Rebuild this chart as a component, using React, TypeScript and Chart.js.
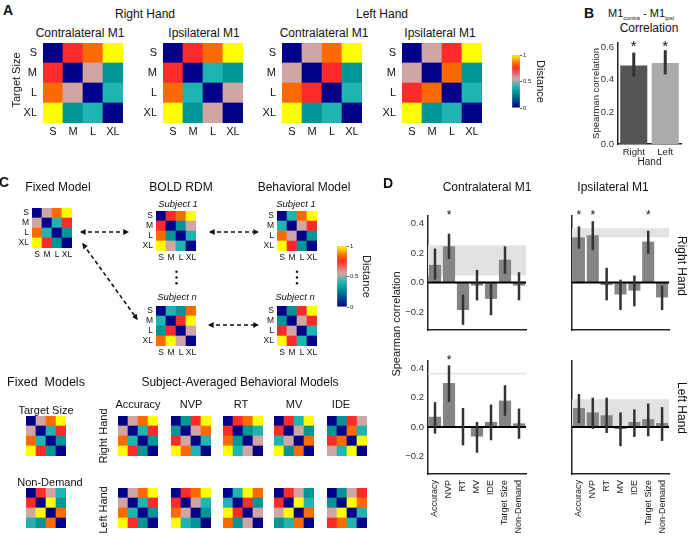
import React, { useEffect, useRef } from 'react';
import { Chart, registerables } from 'chart.js';

Chart.register(...registerables);

const FONT = '"Liberation Sans", Arial, Helvetica, sans-serif';
Chart.defaults.font.family = FONT;
Chart.defaults.color = '#222';

// ---------- colour map (distance -> colour) ----------
const CMAP_STOPS = [0, 0.3, 0.4, 0.55, 0.75, 0.85, 1];
const CMAP_RGB = [
  [0, 0, 136],
  [0, 150, 150],
  [32, 180, 176],
  [210, 165, 165],
  [255, 43, 43],
  [255, 106, 0],
  [255, 255, 0],
];
const COLORBAR_TICKS = [0, 0.5, 1];

// ---------- matrices (rows / cols: S, M, L, XL) ----------
const SIZE_LABELS = ['S', 'M', 'L', 'XL'];

// Panel A
const rightContraRDM = [[0, 0.75, 0.85, 1], [0.75, 0, 0.55, 0.3], [0.85, 0.55, 0, 0.4], [1, 0.3, 0.4, 0]];
const rightIpsiRDM = [[0, 0.75, 0.85, 1], [0.75, 0, 0.4, 0.3], [0.85, 0.4, 0, 0.55], [1, 0.3, 0.55, 0]];
const leftContraRDM = [[0, 0.55, 0.85, 1], [0.55, 0, 0.75, 0.3], [0.85, 0.75, 0, 0.4], [1, 0.3, 0.4, 0]];
const leftIpsiRDM = [[0, 0.55, 0.75, 1], [0.55, 0, 0.85, 0.3], [0.75, 0.85, 0, 0.4], [1, 0.3, 0.4, 0]];

// Panel C (top)
const fixedModelRDM = [[0, 0.55, 0.85, 1], [0.55, 0, 0.4, 0.75], [0.85, 0.4, 0, 0.3], [1, 0.75, 0.3, 0]];
const boldSubj1RDM = [[0, 0.75, 0.85, 1], [0.75, 0, 0.3, 0.55], [0.85, 0.3, 0, 0.4], [1, 0.55, 0.4, 0]];
const behavSubj1RDM = [[0, 0.4, 0.85, 1], [0.4, 0, 0.55, 0.75], [0.85, 0.55, 0, 0.3], [1, 0.75, 0.3, 0]];
const boldSubjNRDM = [[0, 0.4, 0.3, 0.85], [0.4, 0, 0.75, 1], [0.3, 0.75, 0, 0.55], [0.85, 1, 0.55, 0]];
const behavSubjNRDM = [[0, 0.3, 0.75, 1], [0.3, 0, 0.55, 0.75], [0.75, 0.55, 0, 0.4], [1, 0.75, 0.4, 0]];

// Panel C (bottom)
const targetSizeRDM = [[0, 0.55, 0.85, 1], [0.55, 0, 0.4, 0.75], [0.85, 0.4, 0, 0.3], [1, 0.75, 0.3, 0]];
const nonDemandRDM = [[0, 0.75, 0.55, 0.4], [0.75, 0, 1, 0.3], [0.55, 1, 0, 0.85], [0.4, 0.3, 0.85, 0]];
const accRightRDM = [[0, 0.55, 0.85, 1], [0.55, 0, 0.4, 0.75], [0.85, 0.4, 0, 0.3], [1, 0.75, 0.3, 0]];
const nvpRightRDM = [[0, 0.3, 0.75, 1], [0.3, 0, 0.55, 0.85], [0.75, 0.55, 0, 0.4], [1, 0.85, 0.4, 0]];
const rtRightRDM = [[0, 0.75, 0.85, 1], [0.75, 0, 0.3, 0.4], [0.85, 0.3, 0, 0.55], [1, 0.4, 0.55, 0]];
const mvRightRDM = [[0, 0.75, 0.4, 1], [0.75, 0, 0.55, 0.3], [0.4, 0.55, 0, 0.85], [1, 0.3, 0.85, 0]];
const ideRightRDM = [[0, 0.3, 0.75, 0.55], [0.3, 0, 0.85, 0.4], [0.75, 0.85, 0, 1], [0.55, 0.4, 1, 0]];
const accLeftRDM = [[0, 0.55, 0.85, 1], [0.55, 0, 0.4, 0.75], [0.85, 0.4, 0, 0.3], [1, 0.75, 0.3, 0]];
const nvpLeftRDM = [[0, 0.75, 0.85, 1], [0.75, 0, 0.55, 0.4], [0.85, 0.55, 0, 0.3], [1, 0.4, 0.3, 0]];
const rtLeftRDM = [[0, 0.4, 1, 0.85], [0.4, 0, 0.75, 0.3], [1, 0.75, 0, 0.55], [0.85, 0.3, 0.55, 0]];
const mvLeftRDM = [[0, 0.75, 0.55, 0.3], [0.75, 0, 1, 0.4], [0.55, 1, 0, 0.85], [0.3, 0.4, 0.85, 0]];
const ideLeftRDM = [[0, 0.3, 0.55, 0.75], [0.3, 0, 1, 0.85], [0.55, 1, 0, 0.4], [0.75, 0.85, 0.4, 0]];

// ---------- Panel B ----------
const HAND_LABELS = ['Right', 'Left'];
const handCorr = [0.49, 0.505];
const handCorrLow = [0.42, 0.435];
const handCorrHigh = [0.57, 0.585];
const handCorrSig = [true, true];
const HAND_TICKS = [0, 0.2, 0.4, 0.6];

// ---------- Panel D ----------
const MODEL_LABELS = ['Accuracy', 'NVP', 'RT', 'MV', 'IDE', 'Target Size', 'Non-Demand'];
const CORR_TICKS = [-0.2, 0, 0.2, 0.4];

const contraRight = [0.12, 0.245, -0.185, -0.02, -0.11, 0.155, -0.02];
const contraRightLow = [0.02, 0.16, -0.285, -0.12, -0.22, 0.06, -0.12];
const contraRightHigh = [0.23, 0.33, -0.08, 0.086, 0.0, 0.245, 0.07];
const contraRightSig = [false, true, false, false, false, false, false];
const contraRightCeil = [0.048, 0.252];

const contraLeft = [0.07, 0.3, 0.005, -0.065, 0.035, 0.18, 0.025];
const contraLeftLow = [-0.045, 0.17, -0.125, -0.175, -0.09, 0.077, -0.08];
const contraLeftHigh = [0.17, 0.42, 0.13, 0.035, 0.153, 0.285, 0.126];
const contraLeftSig = [false, true, false, false, false, false, false];
const contraLeftCeil = [0.358, 0.37];

const ipsiRight = [0.306, 0.32, -0.016, -0.08, -0.054, 0.277, -0.1];
const ipsiRightLow = [0.23, 0.218, -0.12, -0.185, -0.16, 0.195, -0.185];
const ipsiRightHigh = [0.38, 0.415, 0.1, 0.02, 0.048, 0.35, -0.02];
const ipsiRightSig = [true, true, false, false, false, true, false];
const ipsiRightCeil = [0.306, 0.367];

const ipsiLeft = [0.13, 0.1, 0.08, -0.014, 0.035, 0.054, 0.027];
const ipsiLeftLow = [0.027, -0.013, -0.04, -0.13, -0.067, -0.063, -0.095];
const ipsiLeftHigh = [0.225, 0.2, 0.2, 0.1, 0.12, 0.16, 0.136];
const ipsiLeftSig = [false, false, false, false, false, false, false];
const ipsiLeftCeil = [0.0, 0.19];

// ---------- helpers ----------
function cmap(v: number): string {
  let i = 0;
  while (i < CMAP_STOPS.length - 2 && v > CMAP_STOPS[i + 1]) i++;
  const t = Math.max(0, Math.min(1, (v - CMAP_STOPS[i]) / (CMAP_STOPS[i + 1] - CMAP_STOPS[i])));
  const a = CMAP_RGB[i];
  const b = CMAP_RGB[i + 1];
  const c = a.map((av, k) => Math.round(av + (b[k] - av) * t));
  return `rgb(${c[0]},${c[1]},${c[2]})`;
}

const fmtTick = (v: number) => (v < -1e-9 ? '\u2212' + Math.abs(v).toFixed(1) : Math.abs(v).toFixed(1));

const NOGRID = { display: false, drawTicks: false };

const BASE = {
  animation: false as const,
  responsive: false,
  events: [] as any[],
  plugins: { legend: { display: false }, tooltip: { enabled: false }, title: { display: false } },
};

function ChartCanvas({ x, y, w, h, make }: { x: number; y: number; w: number; h: number; make: () => any }) {
  const ref = useRef<HTMLCanvasElement>(null);
  useEffect(() => {
    const chart = new Chart(ref.current as HTMLCanvasElement, make());
    return () => chart.destroy();
  }, []);
  return (
    <canvas
      ref={ref}
      width={w}
      height={h}
      style={{ position: 'absolute', left: x, top: y, width: w, height: h }}
    />
  );
}

type AxSpec = { font: number; yW: number; yPad: number; xH: number; xPad: number };
const AX_BIG: AxSpec = { font: 11, yW: 22, yPad: 6, xH: 18, xPad: 2 };
const AX_SMALL: AxSpec = { font: 8.5, yW: 16, yPad: 3, xH: 14, xPad: 1.5 };

function heatConfig(m: number[][], ax?: AxSpec) {
  const rows = m.slice().reverse(); // bottom row (XL) first in the stack
  const show = !!ax;
  const fs = ax ? ax.font : 10;
  return {
    type: 'bar',
    data: {
      labels: SIZE_LABELS,
      datasets: rows.map((r) => ({
        data: r.map(() => 1),
        backgroundColor: r.map(cmap),
        borderWidth: 0,
        barPercentage: 1,
        categoryPercentage: 1,
      })),
    },
    options: {
      ...BASE,
      layout: { padding: 0 },
      scales: {
        x: {
          stacked: true,
          display: show,
          grid: NOGRID,
          border: { display: false },
          ticks: { color: '#111', font: { size: fs }, padding: ax ? ax.xPad : 0, maxRotation: 0, minRotation: 0, autoSkip: false },
          afterFit: (s: any) => {
            if (ax) s.height = ax.xH;
            s.paddingLeft = 0;
            s.paddingRight = 0;
          },
        },
        y: {
          stacked: true,
          min: 0,
          max: 4,
          display: show,
          grid: NOGRID,
          border: { display: false },
          afterBuildTicks: (s: any) => {
            s.ticks = [0.5, 1.5, 2.5, 3.5].map((value) => ({ value }));
          },
          ticks: {
            color: '#111',
            font: { size: fs },
            padding: ax ? ax.yPad : 0,
            autoSkip: false,
            callback: (_v: any, i: number) => SIZE_LABELS[3 - i],
          },
          afterFit: (s: any) => {
            if (ax) s.width = ax.yW;
            s.paddingTop = 0;
            s.paddingBottom = 0;
          },
        },
      },
    },
  };
}

function Heat({ m, x, y, size, ax }: { m: number[][]; x: number; y: number; size: number; ax?: AxSpec }) {
  const left = ax ? x - ax.yW : x;
  const w = ax ? size + ax.yW : size;
  const h = ax ? size + ax.xH : size;
  return <ChartCanvas x={left} y={y} w={w} h={h} make={() => heatConfig(m, ax)} />;
}

function colorbarConfig(axisW: number) {
  return {
    type: 'bar',
    data: {
      labels: [''],
      datasets: [
        {
          data: [1],
          backgroundColor: (ctx: any) => {
            const ca = ctx.chart.chartArea;
            if (!ca) return 'rgba(0,0,0,0)';
            const g = ctx.chart.ctx.createLinearGradient(0, ca.bottom, 0, ca.top);
            CMAP_STOPS.forEach((s) => g.addColorStop(s, cmap(s)));
            return g;
          },
          borderWidth: 0.6,
          borderColor: 'rgba(0,0,0,0.35)',
          borderSkipped: false,
          barPercentage: 1,
          categoryPercentage: 1,
        },
      ],
    },
    options: {
      ...BASE,
      layout: { padding: { top: 5, bottom: 5, left: 0, right: 0 } },
      scales: {
        x: { display: false },
        y: {
          position: 'right',
          min: 0,
          max: 1,
          afterBuildTicks: (s: any) => {
            s.ticks = COLORBAR_TICKS.map((value) => ({ value }));
          },
          grid: { display: true, drawOnChartArea: false, drawTicks: true, tickLength: 2, color: '#444', lineWidth: 0.8 },
          border: { display: false },
          ticks: { font: { size: 6 }, padding: 1, color: '#222', callback: (v: number) => String(v) },
          title: { display: true, text: 'Distance', font: { size: 11 }, padding: 0, color: '#222' },
          afterFit: (s: any) => {
            s.width = axisW;
            s.paddingTop = 0;
            s.paddingBottom = 0;
          },
        },
      },
    },
  };
}

function Colorbar({ x, y, w, h, axisW }: { x: number; y: number; w: number; h: number; axisW: number }) {
  return <ChartCanvas x={x} y={y - 5} w={w + axisW} h={h + 10} make={() => colorbarConfig(axisW)} />;
}

function extrasPlugin(lo: number[], hi: number[], sig: boolean[], ceil: number[] | null, o: { zero: boolean; errW: number; star: number; starDy: number }) {
  return {
    id: 'extras',
    beforeDatasetsDraw(chart: any) {
      if (!ceil) return;
      const { ctx, chartArea: ca, scales } = chart;
      const yT = scales.y.getPixelForValue(ceil[1]);
      const yB = scales.y.getPixelForValue(ceil[0]);
      ctx.save();
      ctx.fillStyle = '#e2e2e2';
      ctx.fillRect(ca.left, yT, ca.right - ca.left, Math.max(1.2, yB - yT));
      ctx.restore();
    },
    afterDatasetsDraw(chart: any) {
      const { ctx, chartArea: ca, scales } = chart;
      const meta = chart.getDatasetMeta(0);
      ctx.save();
      if (o.zero) {
        const y0 = scales.y.getPixelForValue(0);
        ctx.strokeStyle = '#000';
        ctx.lineWidth = 2;
        ctx.beginPath();
        ctx.moveTo(ca.left, y0);
        ctx.lineTo(ca.right, y0);
        ctx.stroke();
      }
      ctx.strokeStyle = '#333';
      ctx.lineWidth = o.errW;
      meta.data.forEach((bar: any, i: number) => {
        ctx.beginPath();
        ctx.moveTo(bar.x, scales.y.getPixelForValue(lo[i]));
        ctx.lineTo(bar.x, scales.y.getPixelForValue(hi[i]));
        ctx.stroke();
      });
      ctx.fillStyle = '#111';
      ctx.font = `${o.star}px ${FONT}`;
      ctx.textAlign = 'center';
      ctx.textBaseline = 'alphabetic';
      meta.data.forEach((bar: any, i: number) => {
        if (sig[i]) ctx.fillText('*', bar.x, ca.top + o.starDy + 0.57 * o.star);
      });
      ctx.restore();
    },
  };
}

function handConfig() {
  return {
    type: 'bar',
    data: {
      labels: HAND_LABELS,
      datasets: [
        {
          data: handCorr,
          backgroundColor: ['#555555', '#ababab'],
          borderWidth: 0,
          barPercentage: 0.86,
          categoryPercentage: 1,
        },
      ],
    },
    options: {
      ...BASE,
      layout: { padding: { top: 7, right: 9, left: 0, bottom: 0 } },
      scales: {
        x: {
          grid: NOGRID,
          border: { display: true, color: '#222', width: 1.5 },
          ticks: { font: { size: 9.5 }, padding: 3, color: '#222', maxRotation: 0 },
          title: { display: true, text: 'Hand', font: { size: 10 }, padding: { top: 0, bottom: 0 }, color: '#222' },
          afterFit: (s: any) => {
            s.height = 24;
            s.paddingLeft = 0;
            s.paddingRight = 0;
          },
        },
        y: {
          min: 0,
          max: 0.63,
          grid: NOGRID,
          border: { display: true, color: '#222', width: 1.5 },
          afterBuildTicks: (s: any) => {
            s.ticks = HAND_TICKS.map((value) => ({ value }));
          },
          ticks: { font: { size: 9.5 }, padding: 4, color: '#333', callback: (v: number) => fmtTick(v) },
          title: { display: true, text: 'Spearman correlation', font: { size: 9.5 }, padding: { top: 3, bottom: 0 }, color: '#222' },
          afterFit: (s: any) => {
            s.width = 30;
            s.paddingTop = 0;
            s.paddingBottom = 0;
          },
        },
      },
    },
    plugins: [extrasPlugin(handCorrLow, handCorrHigh, handCorrSig, null, { zero: false, errW: 3, star: 15, starDy: -1 })],
  };
}

function corrConfig(vals: number[], lo: number[], hi: number[], sig: boolean[], ceil: number[], showX: boolean, showY: boolean) {
  return {
    type: 'bar',
    data: {
      labels: MODEL_LABELS,
      datasets: [
        {
          data: vals,
          backgroundColor: '#858585',
          borderWidth: 0,
          barPercentage: 0.87,
          categoryPercentage: 1,
        },
      ],
    },
    options: {
      ...BASE,
      layout: { padding: { top: 11, right: 2, left: 0, bottom: 0 } },
      scales: {
        x: {
          grid: NOGRID,
          border: { display: true, color: '#222', width: 1.5 },
          ticks: { display: showX, font: { size: 9 }, padding: 6, color: '#222', maxRotation: 90, minRotation: 90, autoSkip: false },
          afterFit: (s: any) => {
            s.height = showX ? 64 : 1;
            s.paddingLeft = 0;
            s.paddingRight = 0;
          },
        },
        y: {
          min: -0.32,
          max: 0.45,
          grid: NOGRID,
          border: { display: true, color: '#222', width: 1.5 },
          afterBuildTicks: (s: any) => {
            s.ticks = CORR_TICKS.map((value) => ({ value }));
          },
          ticks: { display: showY, font: { size: 9.5 }, padding: 4, color: '#333', callback: (v: number) => fmtTick(v) },
          afterFit: (s: any) => {
            s.width = showY ? 28 : 2;
            s.paddingTop = 0;
            s.paddingBottom = 0;
          },
        },
      },
    },
    plugins: [extrasPlugin(lo, hi, sig, ceil, { zero: true, errW: 2.5, star: 12, starDy: -3.5 })],
  };
}

// Text label centred on (x, y); uses a fixed, integer-aligned box so rotated text stays crisp.
function Txt({ x, y, children, size = 12, bold = false, italic = false, rot = 0, color = '#111', pre = false }: any) {
  const W = 300;
  const H = Math.round((size * 1.2) / 2) * 2;
  return (
    <div
      style={{
        position: 'absolute',
        left: Math.round(x - W / 2),
        top: Math.round(y - H / 2),
        width: W,
        height: H,
        lineHeight: H + 'px',
        textAlign: 'center',
        transform: rot ? `rotate(${rot}deg)` : undefined,
        fontSize: size,
        fontWeight: bold ? 'bold' : 'normal',
        fontStyle: italic ? 'italic' : 'normal',
        whiteSpace: pre ? 'pre' : 'nowrap',
        fontFamily: FONT,
        color,
        pointerEvents: 'none',
      }}
    >
      {children}
    </div>
  );
}

function Arrows() {
  const common = {
    stroke: '#111',
    strokeWidth: 1.6,
    strokeDasharray: '4 3',
    markerStart: 'url(#ah)',
    markerEnd: 'url(#ah)',
  };
  const dots = [271.7, 277.5, 283.3];
  return (
    <svg width={690} height={538} style={{ position: 'absolute', left: 0, top: 0, pointerEvents: 'none' }}>
      <defs>
        <marker id="ah" viewBox="0 0 10 10" refX="8" refY="5" markerWidth="3.6" markerHeight="3.6" orient="auto-start-reverse">
          <path d="M0,0 L10,5 L0,10 z" fill="#111" />
        </marker>
      </defs>
      <line x1={81} y1={232} x2={128} y2={232} {...common} />
      <line x1={210} y1={232} x2={258} y2={232} {...common} />
      <line x1={209} y1={325} x2={258} y2={325} {...common} />
      <line x1={83} y1={244} x2={137} y2={319} {...common} />
      {dots.map((d) => (
        <circle key={'a' + d} cx={176.5} cy={d} r={1.2} fill="#111" />
      ))}
      {dots.map((d) => (
        <circle key={'b' + d} cx={297} cy={d} r={1.2} fill="#111" />
      ))}
    </svg>
  );
}

export default function App() {
  const topRowY = 416;
  const botRowY = 488;
  const behavCols = [118, 171, 223, 274, 327];
  return (
    <div
      style={{
        position: 'absolute',
        left: 0,
        top: 0,
        width: 690,
        height: 538,
        background: '#fff',
        overflow: 'hidden',
        fontFamily: FONT,
        color: '#111',
      }}
    >
      {/* ---------- Panel A ---------- */}
      <Heat m={rightContraRDM} x={43} y={43} size={80} ax={AX_BIG} />
      <Heat m={rightIpsiRDM} x={163} y={43} size={80} ax={AX_BIG} />
      <Heat m={leftContraRDM} x={282} y={43} size={80} ax={AX_BIG} />
      <Heat m={leftIpsiRDM} x={402} y={43} size={80} ax={AX_BIG} />
      <Colorbar x={512} y={55} w={8} h={53} axisW={27} />

      <Txt x={8} y={10} size={14} bold>A</Txt>
      <Txt x={145} y={14}>Right Hand</Txt>
      <Txt x={381.5} y={14}>Left Hand</Txt>
      <Txt x={80} y={32.5}>Contralateral M1</Txt>
      <Txt x={204} y={32.5}>Ipsilateral M1</Txt>
      <Txt x={324} y={32.5}>Contralateral M1</Txt>
      <Txt x={439.5} y={32.5}>Ipsilateral M1</Txt>
      <Txt x={16} y={80} size={11} rot={-90}>Target Size</Txt>

      {/* ---------- Panel B ---------- */}
      <ChartCanvas x={588} y={36} w={102} h={132} make={handConfig} />
      <Txt x={589} y={12.5} size={14} bold>B</Txt>
      <Txt x={640.5} y={13} size={11}>
        <span>
          M1<sub style={{ fontSize: 6, verticalAlign: 'sub', lineHeight: 0 }}>contra</sub> - M1
          <sub style={{ fontSize: 6, verticalAlign: 'sub', lineHeight: 0 }}>ipsi</sub>
        </span>
      </Txt>
      <Txt x={649} y={27.5}>Correlation</Txt>

      {/* ---------- Panel C ---------- */}
      <Heat m={fixedModelRDM} x={32} y={208} size={40} ax={AX_SMALL} />
      <Heat m={boldSubj1RDM} x={156} y={211} size={40} ax={AX_SMALL} />
      <Heat m={behavSubj1RDM} x={277} y={211} size={40} ax={AX_SMALL} />
      <Heat m={boldSubjNRDM} x={156} y={306} size={40} ax={AX_SMALL} />
      <Heat m={behavSubjNRDM} x={277} y={306} size={40} ax={AX_SMALL} />
      <Colorbar x={337} y={246} w={10} h={61} axisW={26} />
      <Arrows />

      <Txt x={4} y={182} size={14} bold>C</Txt>
      <Txt x={57.5} y={187}>Fixed Model</Txt>
      <Txt x={181} y={187}>BOLD RDM</Txt>
      <Txt x={303.5} y={187}>Behavioral Model</Txt>
      <Txt x={177.5} y={203.5} size={9.5} italic>Subject 1</Txt>
      <Txt x={295.5} y={203.5} size={9.5} italic>Subject 1</Txt>
      <Txt x={177} y={297} size={9.5} italic>Subject n</Txt>
      <Txt x={295} y={297} size={9.5} italic>Subject n</Txt>

      <Heat m={targetSizeRDM} x={26} y={topRowY} size={40} />
      <Heat m={nonDemandRDM} x={26} y={botRowY} size={40} />
      <Heat m={accRightRDM} x={behavCols[0]} y={topRowY} size={40} />
      <Heat m={nvpRightRDM} x={behavCols[1]} y={topRowY} size={40} />
      <Heat m={rtRightRDM} x={behavCols[2]} y={topRowY} size={40} />
      <Heat m={mvRightRDM} x={behavCols[3]} y={topRowY} size={40} />
      <Heat m={ideRightRDM} x={behavCols[4]} y={topRowY} size={40} />
      <Heat m={accLeftRDM} x={behavCols[0]} y={botRowY} size={40} />
      <Heat m={nvpLeftRDM} x={behavCols[1]} y={botRowY} size={40} />
      <Heat m={rtLeftRDM} x={behavCols[2]} y={botRowY} size={40} />
      <Heat m={mvLeftRDM} x={behavCols[3]} y={botRowY} size={40} />
      <Heat m={ideLeftRDM} x={behavCols[4]} y={botRowY} size={40} />

      <Txt x={46} y={382} size={12.5} pre>{'Fixed  Models'}</Txt>
      <Txt x={239.5} y={382}>Subject-Averaged Behavioral Models</Txt>
      <Txt x={45.5} y={409.5} size={11}>Target Size</Txt>
      <Txt x={49.5} y={481.5} size={11}>Non-Demand</Txt>
      <Txt x={137.5} y={403.5} size={11}>Accuracy</Txt>
      <Txt x={191} y={403.5} size={11}>NVP</Txt>
      <Txt x={241} y={403.5} size={11}>RT</Txt>
      <Txt x={293.5} y={403.5} size={11}>MV</Txt>
      <Txt x={341} y={403.5} size={11}>IDE</Txt>
      <Txt x={103} y={435.5} size={11} rot={-90}>Right Hand</Txt>
      <Txt x={103} y={510} size={11} rot={-90}>Left Hand</Txt>

      {/* ---------- Panel D ---------- */}
      <ChartCanvas x={400} y={205} w={128} h={126} make={() => corrConfig(contraRight, contraRightLow, contraRightHigh, contraRightSig, contraRightCeil, false, true)} />
      <ChartCanvas x={570} y={205} w={101} h={126} make={() => corrConfig(ipsiRight, ipsiRightLow, ipsiRightHigh, ipsiRightSig, ipsiRightCeil, false, false)} />
      <ChartCanvas x={400} y={350} w={128} h={188} make={() => corrConfig(contraLeft, contraLeftLow, contraLeftHigh, contraLeftSig, contraLeftCeil, true, true)} />
      <ChartCanvas x={570} y={350} w={101} h={188} make={() => corrConfig(ipsiLeft, ipsiLeftLow, ipsiLeftHigh, ipsiLeftSig, ipsiLeftCeil, true, false)} />

      <Txt x={387.5} y={183} size={14} bold>D</Txt>
      <Txt x={487} y={187}>Contralateral M1</Txt>
      <Txt x={613} y={187}>Ipsilateral M1</Txt>
      <Txt x={396} y={324} size={11} rot={-90}>Spearman correlation</Txt>
      <Txt x={682} y={266} rot={90}>Right Hand</Txt>
      <Txt x={682} y={408} rot={90}>Left Hand</Txt>
    </div>
  );
}
